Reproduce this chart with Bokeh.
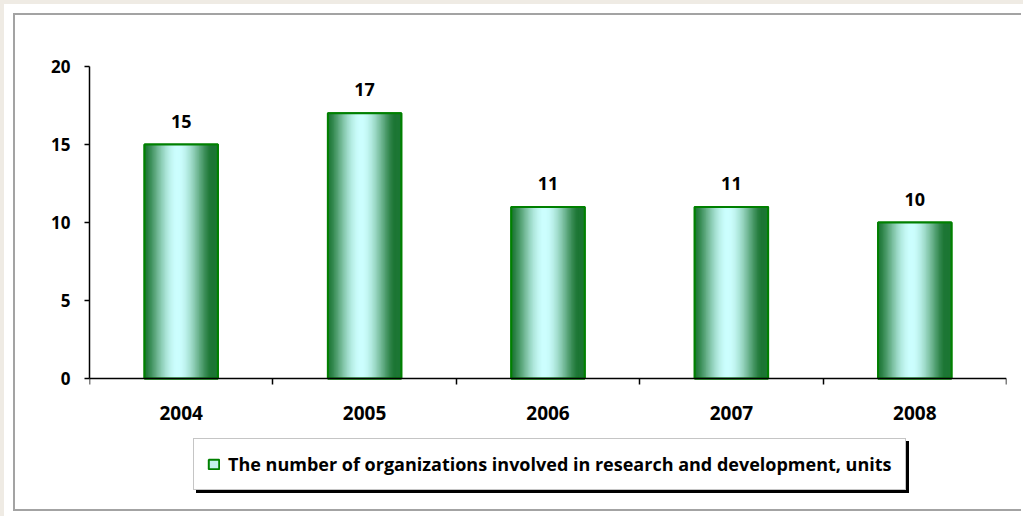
import numpy as np
from bokeh.plotting import figure
from bokeh.models import (ColumnDataSource, Range1d, FixedTicker, LabelSet,
                          Legend, LegendItem)
from bokeh.core.properties import value
from bokeh.transform import dodge
from bokeh.embed import file_html
from bokeh.resources import INLINE

# ---- data ----
years = ["2004", "2005", "2006", "2007", "2008"]
values = [15, 17, 11, 11, 10]
y_ticks = [0, 5, 10, 15, 20]
series_name = "The number of organizations involved in research and development, units"

FONT = "Open Sans"
xc = [i + 0.5 for i in range(len(years))]
src = ColumnDataSource(dict(x=xc, top=values, lab=[str(v) for v in values]))

# frame: 20 units = 312 px, extended below 0 to host the legend
Y_MIN = -(440 - 312) / 15.6
p = figure(width=1008, height=498, output_backend="svg", toolbar_location=None,
           x_range=Range1d(0, len(years)), y_range=Range1d(Y_MIN, 20),
           min_border_left=74, min_border_right=17, min_border_top=51,
           min_border_bottom=7)
p.styles = {"margin": "5px 0 0 5px", "border-left": "2px solid #A3A3A3",
            "border-top": "2px solid #A3A3A3", "border-bottom": "2px solid #A3A3A3"}
p.outline_line_color = None
p.grid.visible = False
p.background_fill_color = "white"
p.border_fill_color = "white"

bw = 0.40
# base bar (also serves as the legend glyph)
base = p.vbar(x="x", top="top", width=bw, bottom=0, source=src,
              fill_color="#c4f2ee", line_color="#008000", line_width=2)

# gradient as thin vertical strips
N = 56
dark = np.array([28, 118, 52])
light = np.array([205, 255, 255])
for j in range(N):
    pos = (j + 0.5) / N
    t = 1 - min(abs(pos - 0.46) / 0.46, 1)
    t = np.clip(t, 0, 1) ** 0.8
    t = 3 * t ** 2 - 2 * t ** 3
    c = (dark + (light - dark) * t).astype(int)
    col = "#%02x%02x%02x" % tuple(c)
    off = -bw / 2 + (j + 0.5) * bw / N
    p.vbar(x=dodge("x", off, range=p.x_range), top="top", width=bw / N * 1.8,
           bottom=0, source=src, fill_color=col, line_color=None)
p.vbar(x="x", top="top", width=bw, bottom=0, source=src, fill_color=None,
       line_color="#008000", line_width=2)

labels = LabelSet(x="x", y="top", text="lab", source=src, y_offset=17,
                  text_align="center", text_baseline="alphabetic",
                  text_font=value(FONT), text_font_style="bold",
                  text_font_size="18px", text_color="black")
p.add_layout(labels)

# axes
xa = p.xaxis[0]
xa.fixed_location = 0
xa.ticker = FixedTicker(ticks=xc, minor_ticks=list(range(len(years) + 1)))
xa.major_label_overrides = {x: y for x, y in zip(xc, years)}
xa.major_tick_out = 0
xa.major_tick_in = 0
xa.minor_tick_out = 6
xa.minor_tick_in = 0
xa.major_label_standoff = 21
ya = p.yaxis[0]
ya.bounds = (0, 20)
ya.ticker = FixedTicker(ticks=y_ticks)
ya.major_tick_out = 5
ya.major_tick_in = 0
ya.minor_tick_out = 0
ya.minor_tick_in = 0
ya.major_label_standoff = 14
for ax in (xa, ya):
    ax.axis_line_color = "black"
    ax.axis_line_width = 1.5
    ax.major_tick_line_color = "black"
    ax.minor_tick_line_color = "black"
    ax.major_tick_line_width = 1.5
    ax.minor_tick_line_width = 1.5
    ax.major_label_text_font = FONT
    ax.major_label_text_font_style = "bold"
    ax.major_label_text_color = "black"
xa.major_label_text_font_size = "19px"
ya.major_label_text_font_size = "17px"


def make_legend(loc, shadow):
    lg = Legend(items=[LegendItem(label=series_name, renderers=[base])],
                location=loc, orientation="vertical")
    lg.label_text_font = FONT
    lg.label_text_font_style = "bold"
    lg.label_text_font_size = "18px"
    lg.label_text_color = "black"
    lg.glyph_width = 13
    lg.glyph_height = 12
    lg.label_standoff = 8
    lg.label_height = 20
    lg.padding = 13
    lg.margin = 0
    lg.spacing = 0
    if shadow:
        lg.background_fill_color = "black"
        lg.border_line_color = "black"
        lg.label_text_color = "black"
        lg.label_text_alpha = 0
    else:
        lg.background_fill_color = "white"
        lg.border_line_color = "#8c8c8c"
        lg.border_line_width = 1
    lg.background_fill_alpha = 1
    return lg

p.add_layout(make_legend((107, 13), True), "center")
p.add_layout(make_legend((104, 16), False), "center")

html = file_html(p, INLINE)
css = ("<style>html{background:#EFEBE4 !important;} body{margin:4px 0 0 4px !important;"
       "padding:4px 0 0 4px !important;background:#ffffff !important;overflow:hidden;}</style>")
html = html.replace("</head>", css + "</head>")
open("out.html", "w").write(html)
